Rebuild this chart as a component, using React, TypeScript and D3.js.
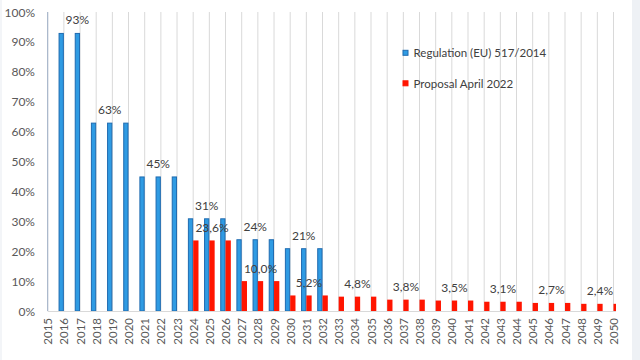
import React from "react";
import * as d3 from "d3";

const years: string[] = d3.range(2015, 2051).map(String);
const regulation: (number | null)[] = [
  null, 93, 93, 63, 63, 63, 45, 45, 45, 31, 31, 31, 24, 24, 24, 21, 21, 21,
  null, null, null, null, null, null, null, null, null, null, null, null, null, null, null, null, null, null,
];
const proposal: (number | null)[] = [
  null, null, null, null, null, null, null, null, null,
  23.6, 23.6, 23.6, 10.0, 10.0, 10.0, 5.2, 5.2, 5.2, 4.8, 4.8, 4.8, 3.8, 3.8, 3.8,
  3.5, 3.5, 3.5, 3.1, 3.1, 3.1, 2.7, 2.7, 2.7, 2.4, 2.4, 2.4,
];
const regLabels: { year: string; text: string }[] = [
  { year: "2017", text: "93%" },
  { year: "2019", text: "63%" },
  { year: "2022", text: "45%" },
  { year: "2025", text: "31%" },
  { year: "2028", text: "24%" },
  { year: "2031", text: "21%" },
];
const propLabels: { year: string; text: string }[] = [
  { year: "2025", text: "23,6%" },
  { year: "2028", text: "10,0%" },
  { year: "2031", text: "5,2%" },
  { year: "2034", text: "4,8%" },
  { year: "2037", text: "3,8%" },
  { year: "2040", text: "3,5%" },
  { year: "2043", text: "3,1%" },
  { year: "2046", text: "2,7%" },
  { year: "2049", text: "2,4%" },
];
const yTicks: number[] = [0, 10, 20, 30, 40, 50, 60, 70, 80, 90, 100];
const seriesNames: string[] = ["Regulation (EU) 517/2014", "Proposal April 2022"];

const BLUE = "#2f9be3";
const BLUE_STROKE = "#1f6bb0";
const RED = "#ff1500";
const FONT = "Lato, 'Liberation Sans', sans-serif";

export default function App() {
  const x = d3.scalePoint<string>().domain(years).range([47.7, 613.5]);
  const y = d3.scaleLinear().domain([0, 100]).range([311, 12]);
  const bw = 5.3;
  const clipRight = 616;
  const val = (k: number) => Math.round(k) + "";

  return (
    <svg
      width={640}
      height={360}
      style={{ position: "absolute", left: 0, top: 0, background: "#fff" }}
    >
      <defs>
        <clipPath id="plotclip">
          <rect x={47.7} y={0} width={clipRight - 47.7} height={312} />
        </clipPath>
      </defs>
      <rect x={0} y={0} width={640} height={360} fill="#fff" />
      <rect x={632} y={0} width={8} height={360} fill="#eef1f5" />
      <rect x={0} y={0} width={2} height={360} fill="#f3f5f8" />

      {years.map((yr) => (
        <line
          key={"g" + yr}
          x1={x(yr)!}
          x2={x(yr)!}
          y1={y(100)}
          y2={y(0)}
          stroke="#d9d9d9"
          strokeWidth={1}
        />
      ))}

      <g clipPath="url(#plotclip)">
        {regulation.map((v, i) =>
          v == null ? null : (
            <rect
              key={"b" + i}
              x={x(years[i])! - bw + 0.5}
              y={y(v) + 0.5}
              width={bw - 1}
              height={y(0) - y(v) - 0.5}
              fill={BLUE}
              stroke={BLUE_STROKE}
              strokeWidth={1}
            />
          )
        )}
        {proposal.map((v, i) =>
          v == null ? null : (
            <rect
              key={"r" + i}
              x={x(years[i])!}
              y={y(v)}
              width={bw}
              height={y(0) - y(v)}
              fill={RED}
            />
          )
        )}
      </g>

      <line x1={47.7} x2={clipRight} y1={y(0) + 0.5} y2={y(0) + 0.5} stroke="#d9d9d9" />
      <line x1={47.7} x2={47.7} y1={y(100)} y2={y(0)} stroke="#9fb0c8" />

      {yTicks.map((t) => (
        <text
          key={"yt" + t}
          x={35}
          y={y(t)}
          textAnchor="end"
          dominantBaseline="central"
          fontFamily={FONT}
          fontSize={12}
          fill="#595959"
        >
          {val(t) + "%"}
        </text>
      ))}

      {years.map((yr) => (
        <text
          key={"xt" + yr}
          transform={`translate(${x(yr)},318) rotate(-90)`}
          textAnchor="end"
          dominantBaseline="central"
          fontFamily={FONT}
          fontSize={11.5}
          fill="#595959"
        >
          {yr}
        </text>
      ))}

      {regLabels.map((l) => {
        const i = years.indexOf(l.year);
        const v = regulation[i]!;
        return (
          <text
            key={"rl" + l.year}
            x={x(l.year)! - bw / 2}
            y={y(v) - 13}
            textAnchor="middle"
            dominantBaseline="central"
            fontFamily={FONT}
            fontSize={12}
            fill="#404040"
          >
            {l.text}
          </text>
        );
      })}
      {propLabels.map((l) => {
        const i = years.indexOf(l.year);
        const v = proposal[i]!;
        return (
          <text
            key={"pl" + l.year}
            x={x(l.year)! + bw / 2}
            y={y(v) - 13}
            textAnchor="middle"
            dominantBaseline="central"
            fontFamily={FONT}
            fontSize={12}
            fill="#404040"
          >
            {l.text}
          </text>
        );
      })}

      {seriesNames.map((n, i) => (
        <g key={"lg" + i} transform={`translate(402.5,${52.8 + i * 30.5})`}>
          <rect
            x={0.5}
            y={-2.5}
            width={5}
            height={5}
            fill={i === 0 ? BLUE : RED}
            stroke={i === 0 ? BLUE_STROKE : RED}
            strokeWidth={1}
          />
          <text
            x={11}
            y={0}
            dominantBaseline="central"
            fontFamily={FONT}
            fontSize={11.5}
            fill="#404040"
          >
            {n}
          </text>
        </g>
      ))}
    </svg>
  );
}
